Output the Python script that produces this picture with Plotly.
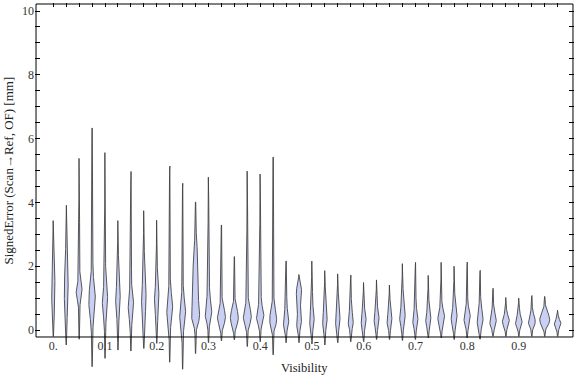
import numpy as np
import plotly.graph_objects as go

# ---------------- data ----------------
visibility = [0.0, 0.025, 0.05, 0.075, 0.1, 0.125, 0.15, 0.175, 0.2, 0.225,
              0.25, 0.275, 0.3, 0.325, 0.35, 0.375, 0.4, 0.425, 0.45, 0.475,
              0.5, 0.525, 0.55, 0.575, 0.6, 0.625, 0.65, 0.675, 0.7, 0.725,
              0.75, 0.775, 0.8, 0.825, 0.85, 0.875, 0.9, 0.925, 0.95, 0.975]

y_min = [-0.20, -0.47, -0.29, -1.15, -0.89, -0.63, -0.66, -0.58, -0.42, -1.01,
         -1.23, -0.74, -0.40, -0.34, -0.31, -0.52, -0.37, -0.78, -0.40, -0.40,
         -0.44, -0.47, -0.40, -0.37, -0.37, -0.30, -0.30, -0.33, -0.30, -0.25,
         -0.25, -0.30, -0.25, -0.29, -0.20, -0.20, -0.20, -0.20, -0.20, -0.20]

y_max = [3.43, 3.91, 5.38, 6.33, 5.56, 3.43, 4.97, 3.74, 3.44, 5.14,
         4.60, 4.01, 4.79, 3.29, 2.30, 4.98, 4.89, 5.42, 2.16, 1.74,
         2.16, 1.86, 1.76, 1.72, 1.49, 1.57, 1.41, 2.08, 2.12, 1.71,
         2.12, 2.00, 2.13, 1.87, 1.31, 1.02, 1.00, 1.08, 1.05, 0.62]

# density profile knots of each violin: y positions and relative half-widths
body_y = [
    [0.0, 1.25, 2.6], [0.0, 1.2, 2.6], [0.2, 0.7, 1.2, 1.7, 2.3], [-0.1, 0.9, 2.0],
    [0.0, 0.9, 1.7], [0.0, 0.95, 1.8], [-0.05, 0.75, 1.6], [0.0, 1.0, 1.9],
    [0.0, 1.0, 1.7], [-0.1, 0.65, 1.6], [-0.2, 0.5, 1.4], [-0.1, 0.45, 1.2, 2.2, 3.0],
    [0.0, 0.5, 1.3, 2.2], [-0.1, 0.4, 1.0], [-0.1, 0.37, 1.0], [-0.1, 0.42, 1.0, 1.6],
    [-0.05, 0.4, 1.0, 2.0], [-0.1, 0.3, 1.0, 1.8], [-0.1, 0.21, 0.9], [-0.1, 0.2, 0.63, 1.2, 1.55],
    [-0.1, 0.26, 1.0], [-0.1, 0.26, 0.9], [-0.1, 0.26, 0.9], [-0.1, 0.21, 0.9],
    [-0.1, 0.26, 0.85], [-0.1, 0.3, 0.9], [-0.1, 0.26, 0.8], [-0.1, 0.37, 1.0],
    [-0.1, 0.26, 0.9], [-0.1, 0.3, 0.8], [-0.1, 0.37, 0.9], [-0.1, 0.35, 0.95],
    [-0.1, 0.37, 0.95], [-0.1, 0.3, 1.0], [-0.1, 0.26, 0.8], [-0.05, 0.26, 0.65],
    [-0.05, 0.21, 0.65], [-0.05, 0.26, 0.7], [-0.05, 0.31, 0.8], [-0.05, 0.19, 0.45],
]
body_w = [
    [0.6, 1.7, 0.6], [0.6, 2.0, 0.6], [0.5, 0.7, 3.0, 0.7, 0.5], [0.7, 3.3, 0.8],
    [0.6, 2.7, 0.6], [0.6, 2.3, 0.6], [0.6, 2.7, 0.6], [0.6, 2.3, 0.6],
    [0.6, 2.3, 0.6], [0.6, 3.0, 0.6], [0.6, 3.0, 0.6], [0.6, 4.0, 2.6, 2.4, 0.7],
    [0.6, 3.3, 1.0, 0.6], [0.7, 4.0, 0.7], [0.7, 4.0, 0.7], [0.7, 4.0, 1.0, 0.6],
    [0.7, 3.7, 1.0, 0.6], [0.7, 3.5, 0.8, 0.6], [0.7, 2.7, 0.7], [0.7, 2.5, 1.3, 2.7, 0.7],
    [0.7, 2.3, 0.6], [0.7, 2.3, 0.6], [0.7, 2.3, 0.6], [0.7, 2.5, 0.6],
    [0.7, 2.5, 0.6], [0.7, 2.5, 0.6], [0.7, 2.5, 0.6], [0.7, 2.8, 0.7],
    [0.7, 2.6, 0.6], [0.7, 2.6, 0.6], [0.7, 3.4, 0.6], [0.7, 3.0, 0.6],
    [0.7, 3.2, 0.6], [0.7, 3.0, 0.6], [0.7, 3.3, 0.6], [0.7, 3.5, 0.6],
    [0.7, 3.3, 0.6], [0.7, 3.5, 0.6], [0.7, 5.0, 0.7], [0.7, 3.3, 0.6],
]

x_tick_vals = [0.0, 0.1, 0.2, 0.3, 0.4, 0.5, 0.6, 0.7, 0.8, 0.9]
x_tick_text = ["0.", "0.1", "0.2", "0.3", "0.4", "0.5", "0.6", "0.7", "0.8", "0.9"]
y_tick_vals = [0, 2, 4, 6, 8, 10]
y_minor_vals = [0.5, 1, 1.5, 2.5, 3, 3.5, 4.5, 5, 5.5, 6.5, 7, 7.5, 8.5, 9, 9.5]

# ---------------- styling ----------------
WIDTH_SCALE = 1 / 517.3      # relative half-width -> x units
TIP = 0.15
FILL = "rgb(202,208,244)"
EDGE = "rgba(60,60,60,0.85)"
FONT = "Liberation Serif"
X_RANGE = [-0.0354, 1.0066]
Y_RANGE = [-1.3166, 10.2508]
FRAME_X = [-0.0334, 1.0046]
FRAME_Y = [-0.219, 10.219]


def profile(lo, hi, ky, kw):
    ys = [lo] + list(ky) + [hi]
    ws = [TIP] + list(kw) + [TIP]
    yy, ww = [], []
    for i in range(len(ys) - 1):
        t = np.linspace(0, 1, 40, endpoint=False)
        yy.append(ys[i] + (ys[i + 1] - ys[i]) * t)
        ww.append(ws[i] + (ws[i + 1] - ws[i]) * (1 - np.cos(np.pi * t)) / 2)
    yy.append([ys[-1]])
    ww.append([ws[-1]])
    return np.concatenate(yy), np.concatenate(ww)


fig = go.Figure()
for v, lo, hi, ky, kw in zip(visibility, y_min, y_max, body_y, body_w):
    yy, ww = profile(lo, hi, ky, kw)
    xs = np.concatenate([v + ww * WIDTH_SCALE, (v - ww * WIDTH_SCALE)[::-1]])
    ys = np.concatenate([yy, yy[::-1]])
    fig.add_trace(go.Scatter(
        x=xs, y=ys, mode="lines", fill="toself", fillcolor=FILL,
        line=dict(color=EDGE, width=1), hoverinfo="skip", showlegend=False))

# invisible trace on label axis
fig.add_trace(go.Scatter(x=[visibility[0]], y=[0], xaxis="x2", mode="markers",
                         marker=dict(opacity=0), showlegend=False, hoverinfo="skip"))

fig.update_layout(
    width=576, height=377,
    margin=dict(l=35, r=2, t=3, b=5),
    paper_bgcolor="white", plot_bgcolor="white",
    font=dict(family=FONT, size=12, color="#333333"),
    xaxis=dict(range=X_RANGE, side="top", ticks="inside", ticklen=4,
               tickcolor="black", tickvals=visibility, showticklabels=False,
               showgrid=False, zeroline=False, showline=False),
    xaxis2=dict(range=X_RANGE, overlaying="x", anchor="free",
                position=(372 - 337) / 369, side="bottom", ticks="",
                tickvals=x_tick_vals, ticktext=x_tick_text,
                tickfont=dict(family=FONT, size=12, color="#333333"),
                showgrid=False, zeroline=False, showline=False),
    yaxis=dict(range=Y_RANGE, ticks="inside", ticklen=5, tickcolor="black",
               tickvals=y_tick_vals, ticktext=[str(t) for t in y_tick_vals],
               minor=dict(tickmode="array", tickvals=y_minor_vals, ticks="inside",
                          ticklen=3, tickcolor="black"),
               mirror="allticks", showgrid=False, zeroline=False, showline=False,
               tickfont=dict(family=FONT, size=12, color="#333333")),
    shapes=[dict(type="rect", xref="x", yref="y",
                 x0=FRAME_X[0], x1=FRAME_X[1], y0=FRAME_Y[0], y1=FRAME_Y[1],
                 line=dict(color="black", width=1), layer="above")],
    annotations=[
        dict(text="Visibility", xref="x", yref="y",
             x=(FRAME_X[0] + FRAME_X[1]) / 2, y=-1.19, showarrow=False,
             font=dict(family=FONT, size=12.5, color="#222222")),
        dict(text="SignedError (Scan\u2192Ref, OF) [mm]", xref="paper", yref="y",
             x=(8 - 35) / 539, xanchor="center", y=5.0, yanchor="middle",
             textangle=-90, showarrow=False,
             font=dict(family=FONT, size=13, color="#222222")),
    ],
)

fig.write_html("out.html", config={"displayModeBar": False},
               post_script="document.body.style.margin='0';document.body.style.padding='0';")
